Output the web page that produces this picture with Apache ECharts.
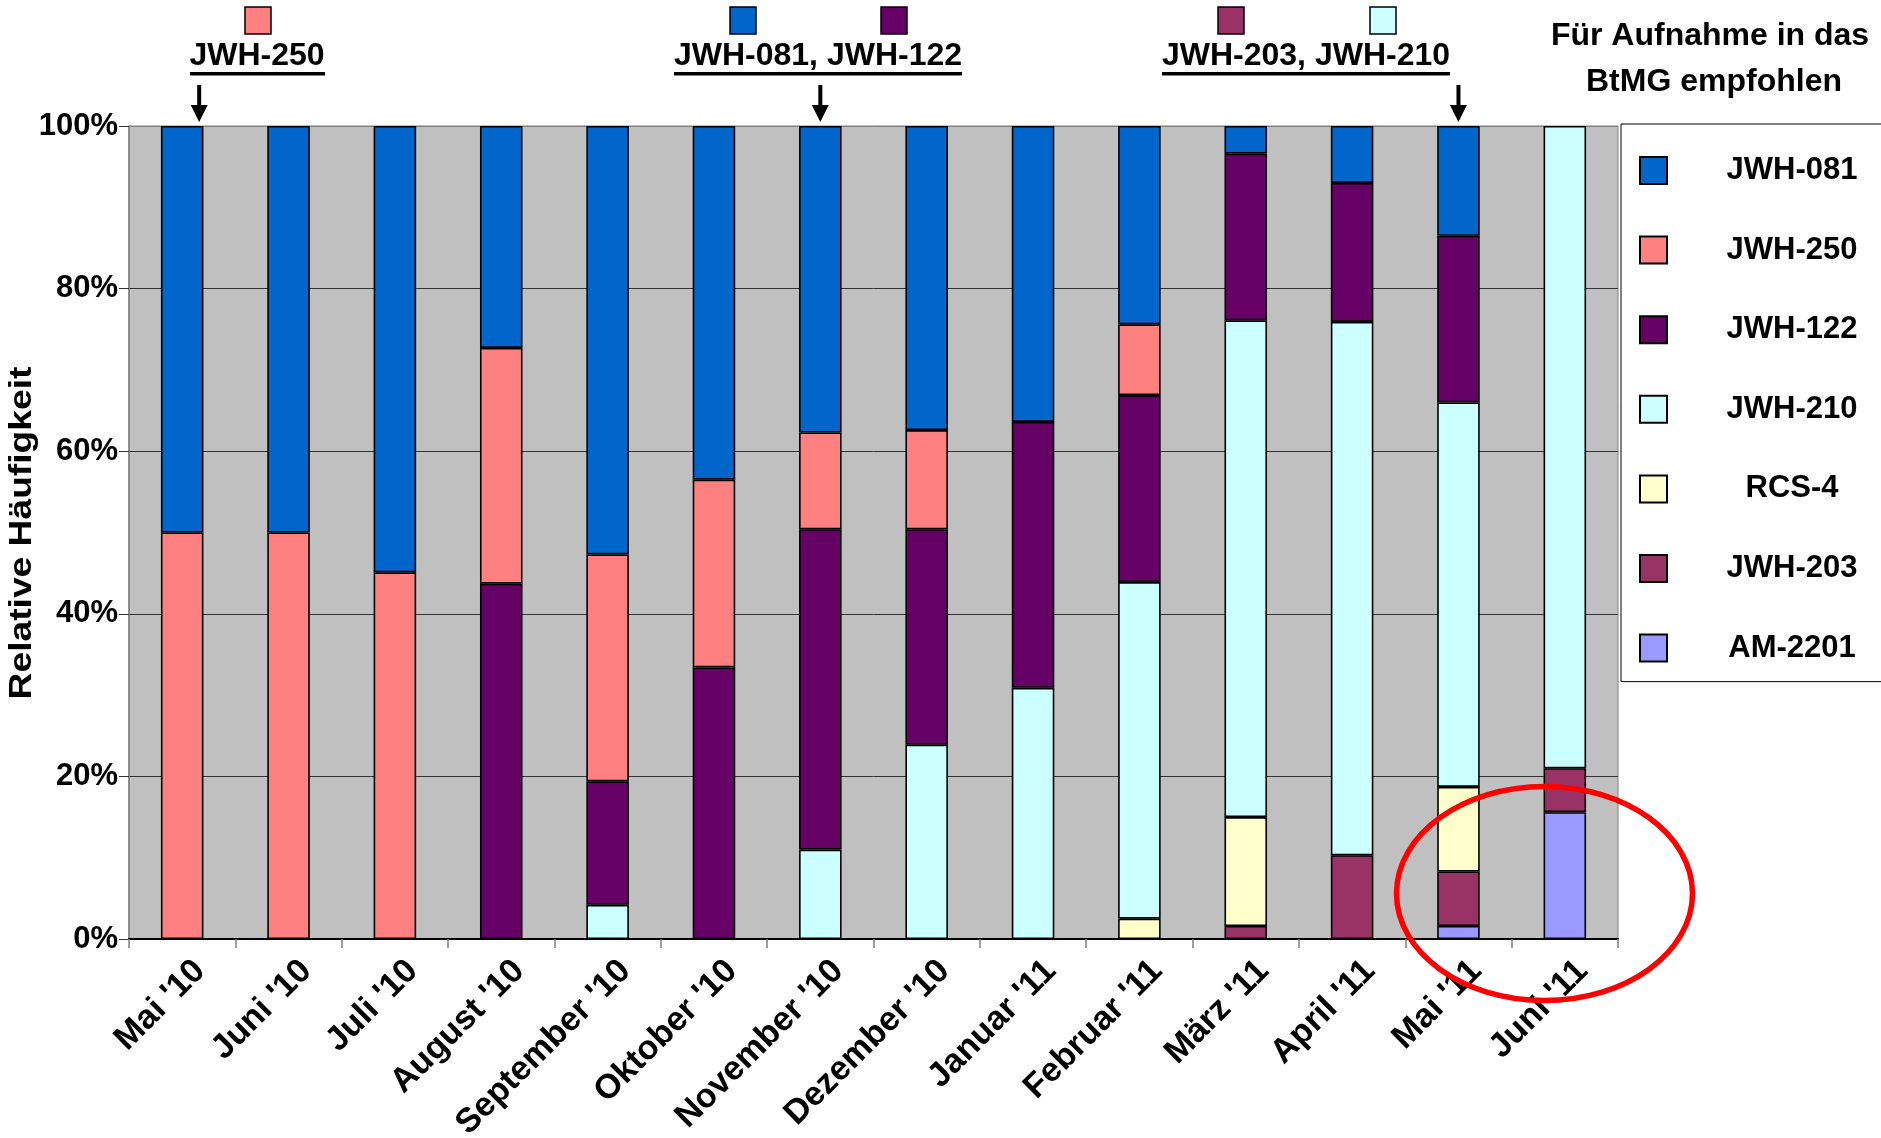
<!DOCTYPE html>
<html>
<head>
<meta charset="utf-8">
<script src="https://cdn.jsdelivr.net/npm/echarts@6/dist/echarts.min.js"></script>
<style>
html,body{margin:0;padding:0;background:#fff;}
#chart{width:1881px;height:1138px;}
</style>
</head>
<body>
<div id="chart"></div>
<script>
// ---- data (percent of samples) ----
const categories = ["Mai '10","Juni '10","Juli '10","August '10","September '10","Oktober '10","November '10","Dezember '10","Januar '11","Februar '11","März '11","April '11","Mai '11","Juni '11"];
const yTicks = [0, 20, 40, 60, 80, 100];
const am2201 = [null,null,null,null,null,null,null,null,null,null,null,null,1.6,15.6];
const jwh203 = [null,null,null,null,null,null,null,null,null,null,1.6,10.3,6.7,5.4];
const rcs4   = [null,null,null,null,null,null,null,null,null,2.5,13.4,null,10.4,null];
const jwh210 = [null,null,null,null,4.2,null,11.0,23.9,30.9,41.4,61.1,65.6,47.3,79.0];
const jwh122 = [null,null,null,43.7,15.2,33.4,39.4,26.5,32.7,23.0,20.5,17.1,20.5,null];
const jwh250 = [50.0,50.0,45.1,29.0,27.9,23.1,11.9,12.2,null,8.7,null,null,null,null];
const jwh081 = [50.0,50.0,54.9,27.3,52.7,43.5,37.7,37.4,36.4,24.4,3.4,7.0,13.5,null];
const legendOrder = ['JWH-081','JWH-250','JWH-122','JWH-210','RCS-4','JWH-203','AM-2201'];
const arrowCats = ["Mai '10","November '10","Mai '11"];

// ---- styles ----
const colors = {
  'AM-2201':'#9999FF','JWH-203':'#993366','RCS-4':'#FFFFCC','JWH-210':'#CCFFFF',
  'JWH-122':'#660066','JWH-250':'#FF8080','JWH-081':'#0066CC'
};
const FF = '"Liberation Sans", Arial, sans-serif';
const stackSeries = [
  ['AM-2201', am2201], ['JWH-203', jwh203], ['RCS-4', rcs4], ['JWH-210', jwh210],
  ['JWH-122', jwh122], ['JWH-250', jwh250], ['JWH-081', jwh081]
];

const chart = echarts.init(document.getElementById('chart'), null, {renderer:'canvas'});

const option = {
  animation: false,
  backgroundColor: '#fff',
  grid: {left:129, right:263, top:126, bottom:199, outerBoundsMode:'none', containLabel:false,
    show:true, backgroundColor:'#C0C0C0', borderColor:'#808080', borderWidth:1},
  legend: {
    data: legendOrder, orient:'vertical', left:1621, top:124,
    backgroundColor:'#fff', borderColor:'#000', borderWidth:1,
    padding:[31, 10, 18, 18], itemWidth:27, itemHeight:27, itemGap:48.6,
    selectedMode:false, icon:'rect',
    formatter: '{a|{name}}',
    textStyle: {rich:{a:{width:240, align:'center', fontSize:31, fontWeight:'bold', fontFamily:FF, color:'#000', lineHeight:27}}}
  },
  xAxis: {
    type:'category', data:categories,
    axisLine:{show:true, lineStyle:{color:'#000', width:2}},
    axisTick:{show:true, length:9, alignWithLabel:false, lineStyle:{color:'#808080', width:1.5}},
    axisLabel:{interval:0, rotate:45, margin:9, verticalAlign:'top', lineHeight:50,
      fontSize:34, fontWeight:'bold', fontFamily:FF, color:'#000'},
    splitLine:{show:false}
  },
  yAxis: {
    type:'value', min:yTicks[0], max:yTicks[yTicks.length-1], interval:20,
    axisLine:{show:true, lineStyle:{color:'#808080', width:1.5}},
    axisTick:{show:true, length:10, lineStyle:{color:'#333', width:1}},
    axisLabel:{formatter:'{value}%', margin:11, fontSize:31, fontWeight:'bold', fontFamily:FF, color:'#000'},
    splitLine:{show:true, lineStyle:{color:['#808080','#333','#333','#333','#333','#808080'], width:1}}
  },
  series: stackSeries.map(([name, data]) => ({
    name, type:'bar', stack:'total', data, barWidth:'40%',
    itemStyle:{color:colors[name], borderColor:'#000', borderWidth:1.6}
  }))
};
chart.setOption(option);

// ---- annotations ----
const font = 'bold 32px ' + FF;
const g = [];
function sq(x, c){ g.push({type:'rect', shape:{x:x, y:7, width:26, height:27}, style:{fill:c, stroke:'#000', lineWidth:1.5}}); }
function label(txt, cx, x0, w){
  g.push({type:'text', x:cx, y:56.5, style:{text:txt, font:font, fill:'#000', align:'center', verticalAlign:'middle'}});
  g.push({type:'rect', shape:{x:x0, y:72, width:w, height:3.5}, style:{fill:'#000'}});
}
sq(245, colors['JWH-250']);
label('JWH-250', 257, 190, 135);
sq(730, colors['JWH-081']); sq(881, colors['JWH-122']);
label('JWH-081, JWH-122', 818, 674, 288);
sq(1218, colors['JWH-203']); sq(1370, colors['JWH-210']);
label('JWH-203, JWH-210', 1306, 1162, 288);

const arrowOffsets = [17, 0, 0];
arrowCats.forEach((c, i) => {
  const x = chart.convertToPixel({xAxisIndex:0}, c) + arrowOffsets[i];
  g.push({type:'line', shape:{x1:x, y1:85, x2:x, y2:108}, style:{stroke:'#000', lineWidth:4}});
  g.push({type:'polygon', shape:{points:[[x-8.5,105],[x+8.5,105],[x,122]]}, style:{fill:'#000'}});
});

g.push({type:'text', x:1710, y:36, style:{text:'Für Aufnahme in das', font:font, fill:'#000', align:'center', verticalAlign:'middle'}});
g.push({type:'text', x:1714, y:82, style:{text:'BtMG empfohlen', font:font, fill:'#000', align:'center', verticalAlign:'middle'}});

// y-axis title
g.push({type:'text', x:22, y:533, rotation:Math.PI/2, scaleX:1.2, style:{text:'Relative Häufigkeit', font:'bold 31px ' + FF, fill:'#000', align:'center', verticalAlign:'middle'}});

// red ellipse
g.push({type:'ellipse', z:100, shape:{cx:1544.5, cy:893.5, rx:148, ry:107}, style:{fill:'none', stroke:'#FF0000', lineWidth:5.5}});

chart.setOption({graphic: g});
</script>
</body>
</html>
